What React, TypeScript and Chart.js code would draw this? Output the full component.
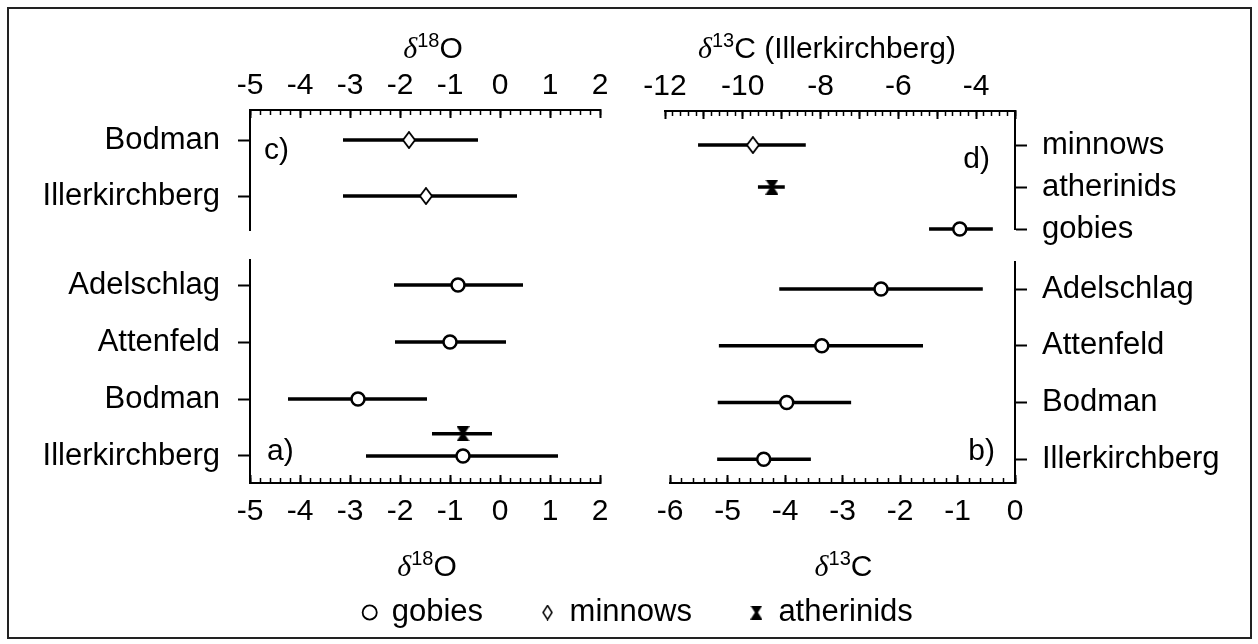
import React, { useEffect, useRef } from 'react';
import { Chart, registerables } from 'chart.js';

Chart.register(...registerables);

const W = 1258;
const H = 644;
const FONT = '"Liberation Sans", Arial, Helvetica, sans-serif';
const SERIF = '"Liberation Serif", "Times New Roman", serif';

// ---------- data ----------
// c) δ18O of minnows
const minnowSites = ['Bodman', 'Illerkirchberg'];
const minnowO18Mean = [-1.82, -1.48];
const minnowO18Low = [-3.14, -3.14];
const minnowO18High = [-0.44, 0.34];

// d) δ13C at Illerkirchberg, by taxon
const illerTaxa = ['minnows', 'atherinids', 'gobies'];
const illerC13Mean = [-9.74, -9.25, -4.42];
const illerC13Low = [-11.15, -9.61, -5.21];
const illerC13High = [-8.38, -8.92, -3.57];

// a) / b) gobies at four sites
const gobySites = ['Adelschlag', 'Attenfeld', 'Bodman', 'Illerkirchberg'];
const gobyO18Mean = [-0.84, -1.0, -2.84, -0.74];
const gobyO18Low = [-2.12, -2.1, -4.24, -2.68];
const gobyO18High = [0.46, 0.12, -1.46, 1.16];
const gobyC13Mean = [-2.33, -3.36, -3.97, -4.37];
const gobyC13Low = [-4.1, -5.15, -5.17, -5.18];
const gobyC13High = [-0.56, -1.6, -2.85, -3.55];

// a) atherinids δ18O at Illerkirchberg
const atherinidO18Site = ['Illerkirchberg'];
const atherinidO18Mean = [-0.74];
const atherinidO18Low = [-1.36];
const atherinidO18High = [-0.16];

// tick labels
const o18TickLabels = [-5, -4, -3, -2, -1, 0, 1, 2];
const c13TopTickLabels = [-12, -10, -8, -6, -4];
const c13BottomTickLabels = [-6, -5, -4, -3, -2, -1, 0];

// ---------- helpers ----------
function steps(min: number, max: number, step: number): number[] {
  const n = Math.round((max - min) / step);
  const out: number[] = [];
  for (let i = 0; i <= n; i++) out.push(Math.round((min + i * step) * 1e6) / 1e6);
  return out;
}

function makeDiamond(w: number, h: number, lw: number) {
  const c = document.createElement('canvas');
  c.width = w;
  c.height = h;
  const ctx = c.getContext('2d')!;
  ctx.beginPath();
  ctx.moveTo(w / 2, 1);
  ctx.lineTo(w - 1, h / 2);
  ctx.lineTo(w / 2, h - 1);
  ctx.lineTo(1, h / 2);
  ctx.closePath();
  ctx.fillStyle = '#fff';
  ctx.fill();
  ctx.lineWidth = lw;
  ctx.strokeStyle = '#000';
  ctx.stroke();
  return c;
}

function makeHourglass(w: number, h: number) {
  const c = document.createElement('canvas');
  c.width = w;
  c.height = h;
  const ctx = c.getContext('2d')!;
  ctx.fillStyle = '#000';
  ctx.beginPath();
  ctx.moveTo(0, 0);
  ctx.lineTo(w, 0);
  ctx.lineTo(w / 2 + 1.5, h / 2);
  ctx.lineTo(w / 2 - 1.5, h / 2);
  ctx.closePath();
  ctx.fill();
  ctx.beginPath();
  ctx.moveTo(0, h);
  ctx.lineTo(w, h);
  ctx.lineTo(w / 2 + 1.5, h / 2);
  ctx.lineTo(w / 2 - 1.5, h / 2);
  ctx.closePath();
  ctx.fill();
  return c;
}

function isoTitle(mass: string, rest: string) {
  return [
    { t: '\u03B4', font: `italic 30px ${SERIF}`, dy: 0 },
    { t: mass, font: `20px ${FONT}`, dy: -11 },
    { t: rest, font: `30px ${FONT}`, dy: 0 },
  ];
}

const panelText = {
  id: 'panelText',
  afterDraw(chart: any, _args: any, opts: any) {
    const { ctx, chartArea: a } = chart;
    ctx.save();
    ctx.fillStyle = '#000';
    ctx.textBaseline = 'alphabetic';
    if (opts.letter) {
      ctx.font = `30px ${FONT}`;
      ctx.textAlign = opts.letterAlign;
      const x = opts.letterAlign === 'left' ? a.left + opts.letterDx : a.right - opts.letterDx;
      const y = opts.letterFrom === 'top' ? a.top + opts.letterDy : a.bottom - opts.letterDy;
      ctx.fillText(opts.letter, x, y);
    }
    if (opts.title) {
      ctx.textAlign = 'left';
      let total = 0;
      for (const p of opts.title) {
        ctx.font = p.font;
        total += ctx.measureText(p.t).width;
      }
      let x = (a.left + a.right) / 2 + opts.titleDx - total / 2;
      const y = opts.titleSide === 'top' ? a.top + opts.titleDy : a.bottom + opts.titleDy;
      for (const p of opts.title) {
        ctx.font = p.font;
        ctx.fillText(p.t, x, y + p.dy);
        x += ctx.measureText(p.t).width;
      }
    }
    ctx.restore();
  },
};

type Area = { left: number; top: number; right: number; bottom: number };

function errorBars(low: number[], high: number[], rows: number[]) {
  return low.map((lo, i) => ({
    data: [
      { x: lo, y: rows[i] },
      { x: high[i], y: rows[i] },
    ],
    showLine: true,
    borderColor: '#000',
    borderWidth: 3.5,
    borderCapStyle: 'butt',
    pointRadius: 0,
    order: 2,
    clip: false,
    xAxisID: 'x',
    yAxisID: 'y',
  }));
}

function buildPanel(
  canvas: HTMLCanvasElement,
  spec: {
    area: Area;
    xSide: 'top' | 'bottom';
    ySide: 'left' | 'right';
    xMin: number;
    xMax: number;
    xLabels: number[];
    xPad: number;
    yMin: number;
    yMax: number;
    rows: string[];
    yPad: number;
    datasets: any[];
    text: any;
  }
) {
  const { area } = spec;
  const xSize = spec.xSide === 'top' ? area.top : H - area.bottom;
  const ySize = spec.ySide === 'left' ? area.left : W - area.right;
  const padding = {
    left: spec.ySide === 'left' ? 0 : area.left,
    right: spec.ySide === 'right' ? 0 : W - area.right,
    top: spec.xSide === 'top' ? 0 : area.top,
    bottom: spec.xSide === 'bottom' ? 0 : H - area.bottom,
  };
  const majors = steps(Math.ceil(spec.xMin), Math.floor(spec.xMax), 1);
  const minors = steps(spec.xMin, spec.xMax, 0.2);
  const tickFont = { family: FONT, size: 30 };
  const rowFont = { family: FONT, size: 31 };
  return new Chart(canvas, {
    type: 'scatter',
    data: { datasets: spec.datasets },
    options: {
      animation: false,
      responsive: false,
      events: [],
      layout: { padding, autoPadding: false },
      plugins: {
        legend: { display: false },
        tooltip: { enabled: false },
        panelText: spec.text,
      } as any,
      scales: {
        x: {
          type: 'linear',
          position: spec.xSide,
          min: spec.xMin,
          max: spec.xMax,
          weight: 1,
          afterBuildTicks: (s: any) => {
            s.ticks = majors.map((v) => ({ value: v }));
          },
          afterFit: (s: any) => {
            s.height = xSize;
          },
          ticks: {
            autoSkip: false,
            maxRotation: 0,
            minRotation: 0,
            font: tickFont,
            color: '#000',
            padding: spec.xPad,
            callback: (v: any) => (spec.xLabels.includes(v) ? String(v) : ''),
          },
          grid: { drawOnChartArea: false, tickLength: -8, tickWidth: 2, tickColor: '#000', color: '#000' },
          border: { color: '#000', width: 2 },
        },
        xMinor: {
          type: 'linear',
          position: spec.xSide,
          min: spec.xMin,
          max: spec.xMax,
          weight: 0,
          afterBuildTicks: (s: any) => {
            s.ticks = minors.map((v) => ({ value: v }));
          },
          afterFit: (s: any) => {
            s.height = 0;
          },
          ticks: { display: false },
          grid: { drawOnChartArea: false, tickLength: -5, tickWidth: 1.5, tickColor: '#000', color: '#000' },
          border: { display: false },
        },
        y: {
          type: 'linear',
          position: spec.ySide,
          min: spec.yMin,
          max: spec.yMax,
          reverse: true,
          afterBuildTicks: (s: any) => {
            s.ticks = spec.rows.map((_, i) => ({ value: i }));
          },
          afterFit: (s: any) => {
            s.width = ySize;
          },
          ticks: {
            autoSkip: false,
            font: rowFont,
            color: '#000',
            padding: spec.yPad,
            callback: (v: any) => spec.rows[v] ?? '',
          },
          grid: { drawOnChartArea: false, tickLength: 12, tickWidth: 2, tickColor: '#000', color: '#000' },
          border: { color: '#000', width: 2 },
        },
      } as any,
    },
    plugins: [panelText as any],
  } as any);
}

export default function App() {
  const cRef = useRef<HTMLCanvasElement>(null);
  const dRef = useRef<HTMLCanvasElement>(null);
  const aRef = useRef<HTMLCanvasElement>(null);
  const bRef = useRef<HTMLCanvasElement>(null);
  const legRef = useRef<HTMLCanvasElement>(null);

  useEffect(() => {
    const diamond = makeDiamond(14, 18, 1.8);
    const hourglass = makeHourglass(13, 15);
    const legDiamond = makeDiamond(11, 16, 1.5);
    const legHourglass = makeHourglass(12, 14);

    const circleStyle = {
      pointStyle: 'circle',
      pointRadius: 6.5,
      pointBackgroundColor: '#fff',
      pointBorderColor: '#000',
      pointBorderWidth: 2.5,
    };

    const minnowRows = minnowSites.map((_, i) => i);
    const chartC = buildPanel(cRef.current!, {
      area: { left: 250, top: 110, right: 600, bottom: 230 },
      xSide: 'top',
      ySide: 'left',
      xMin: -5,
      xMax: 2,
      xLabels: o18TickLabels,
      xPad: 14,
      yMin: -0.536,
      yMax: 1.607,
      rows: minnowSites,
      yPad: 18,
      datasets: [
        {
          data: minnowO18Mean.map((m, i) => ({ x: m, y: minnowRows[i] })),
          pointStyle: diamond,
          pointRadius: 6,
          order: 0,
          clip: false,
          xAxisID: 'x',
          yAxisID: 'y',
        },
        ...errorBars(minnowO18Low, minnowO18High, minnowRows),
      ],
      text: {
        letter: 'c)', letterAlign: 'left', letterDx: 14, letterFrom: 'top', letterDy: 49,
        title: isoTitle('18', 'O'), titleSide: 'top', titleDy: -52, titleDx: 8,
      },
    });

    const taxaRows = illerTaxa.map((_, i) => i);
    const chartD = buildPanel(dRef.current!, {
      area: { left: 665, top: 111, right: 1015, bottom: 229 },
      xSide: 'top',
      ySide: 'right',
      xMin: -12,
      xMax: -3,
      xLabels: c13TopTickLabels,
      xPad: 14,
      yMin: -0.81,
      yMax: 2,
      rows: illerTaxa,
      yPad: 15,
      datasets: [
        {
          data: illerC13Mean.map((m, i) => ({ x: m, y: taxaRows[i] })),
          pointStyle: [diamond, hourglass, 'circle'],
          pointRadius: 6.5,
          pointBackgroundColor: '#fff',
          pointBorderColor: '#000',
          pointBorderWidth: 2.5,
          order: 0,
          clip: false,
          xAxisID: 'x',
          yAxisID: 'y',
        },
        ...errorBars(illerC13Low, illerC13High, taxaRows),
      ],
      text: {
        letter: 'd)', letterAlign: 'right', letterDx: 25, letterFrom: 'top', letterDy: 57,
        title: isoTitle('13', 'C (Illerkirchberg)'), titleSide: 'top', titleDy: -53, titleDx: -13,
      },
    });

    const siteRows = gobySites.map((_, i) => i);
    const atherinidRows = atherinidO18Site.map((s) => gobySites.indexOf(s) - 0.39);
    const chartA = buildPanel(aRef.current!, {
      area: { left: 250, top: 260, right: 600, bottom: 483 },
      xSide: 'bottom',
      ySide: 'left',
      xMin: -5,
      xMax: 2,
      xLabels: o18TickLabels,
      xPad: 19,
      yMin: -0.44,
      yMax: 3.474,
      rows: gobySites,
      yPad: 18,
      datasets: [
        {
          data: gobyO18Mean.map((m, i) => ({ x: m, y: siteRows[i] })),
          ...circleStyle,
          order: 0,
          clip: false,
          xAxisID: 'x',
          yAxisID: 'y',
        },
        {
          data: atherinidO18Mean.map((m, i) => ({ x: m, y: atherinidRows[i] })),
          pointStyle: hourglass,
          pointRadius: 6,
          order: 0,
          clip: false,
          xAxisID: 'x',
          yAxisID: 'y',
        },
        ...errorBars(gobyO18Low, gobyO18High, siteRows),
        ...errorBars(atherinidO18Low, atherinidO18High, atherinidRows),
      ],
      text: {
        letter: 'a)', letterAlign: 'left', letterDx: 17, letterFrom: 'bottom', letterDy: 23,
        title: isoTitle('18', 'O'), titleSide: 'bottom', titleDy: 93, titleDx: 2,
      },
    });

    const chartB = buildPanel(bRef.current!, {
      area: { left: 670, top: 262, right: 1015, bottom: 483 },
      xSide: 'bottom',
      ySide: 'right',
      xMin: -6,
      xMax: 0,
      xLabels: c13BottomTickLabels,
      xPad: 19,
      yMin: -0.476,
      yMax: 3.42,
      rows: gobySites,
      yPad: 15,
      datasets: [
        {
          data: gobyC13Mean.map((m, i) => ({ x: m, y: siteRows[i] })),
          ...circleStyle,
          order: 0,
          clip: false,
          xAxisID: 'x',
          yAxisID: 'y',
        },
        ...errorBars(gobyC13Low, gobyC13High, siteRows),
      ],
      text: {
        letter: 'b)', letterAlign: 'right', letterDx: 20, letterFrom: 'bottom', letterDy: 23,
        title: isoTitle('13', 'C'), titleSide: 'bottom', titleDy: 93, titleDx: 1,
      },
    });

    const legend = new Chart(legRef.current!, {
      type: 'scatter',
      data: {
        datasets: [
          {
            label: 'gobies',
            data: [],
            pointStyle: 'circle',
            pointRadius: 6,
            pointBackgroundColor: '#fff',
            pointBorderColor: '#000',
            pointBorderWidth: 1.8,
          },
          { label: 'minnows', data: [], pointStyle: legDiamond, pointRadius: 6 },
          { label: 'atherinids', data: [], pointStyle: legHourglass, pointRadius: 6 },
        ],
      },
      options: {
        animation: false,
        responsive: false,
        events: [],
        layout: { padding: { left: 18, right: 0, top: 0, bottom: 6 } },
        scales: { x: { display: false }, y: { display: false } },
        plugins: {
          tooltip: { enabled: false },
          legend: {
            display: true,
            position: 'bottom',
            labels: {
              usePointStyle: true,
              boxWidth: 13,
              boxHeight: 10,
              padding: 58,
              color: '#000',
              font: { family: FONT, size: 31 },
            },
          },
        },
      } as any,
    } as any);

    return () => {
      chartC.destroy();
      chartD.destroy();
      chartA.destroy();
      chartB.destroy();
      legend.destroy();
    };
  }, []);

  const canvasStyle: React.CSSProperties = {
    position: 'absolute',
    left: 0,
    top: 0,
    width: W,
    height: H,
  };

  return (
    <div style={{ position: 'absolute', left: 0, top: 0, width: W, height: H, background: '#fff', overflow: 'hidden' }}>
      <div
        style={{
          position: 'absolute',
          left: 7,
          top: 7,
          width: 1245,
          height: 632,
          border: '2px solid #222',
          boxSizing: 'border-box',
        }}
      />
      <canvas ref={cRef} width={W} height={H} style={canvasStyle} />
      <canvas ref={dRef} width={W} height={H} style={canvasStyle} />
      <canvas ref={aRef} width={W} height={H} style={canvasStyle} />
      <canvas ref={bRef} width={W} height={H} style={canvasStyle} />
      <canvas ref={legRef} width={W} height={H} style={canvasStyle} />
    </div>
  );
}
